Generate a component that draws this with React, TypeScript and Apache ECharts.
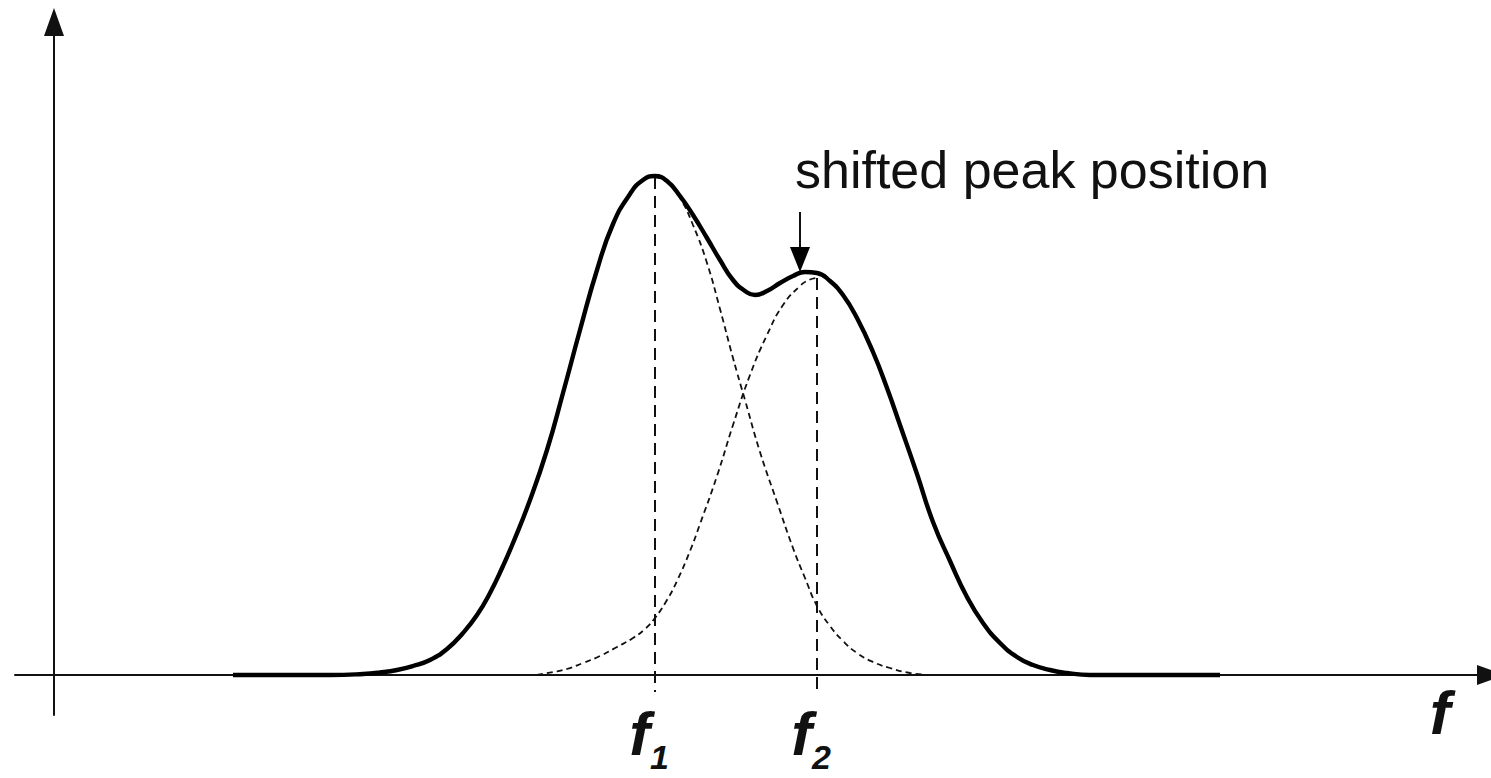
import React, { useEffect, useRef } from "react";
import * as echarts from "echarts";

const solidX = [17.9, 27.6, 30.9, 32.6, 34.3, 35.9, 37.6, 39.3, 40.9, 42.3, 43.6, 44.9, 45.9, 47.6, 49.3, 50.9, 52.6, 54.3, 55.9, 57.6, 58.9, 60.1, 61.3, 62.6, 63.9, 65.3, 66.6, 67.9, 69.1, 70.1, 71.3, 72.6, 73.9, 75.1, 76.3, 77.6, 78.9, 80.3, 81.9, 83.3, 84.6, 86.3, 87.9, 89.6, 91.3, 92.9, 94.6, 96.3, 97.9, 99.6, 101.3, 103.6, 116.6];
const solidY = [0, 0, 0.1, 0.25, 0.5, 0.9, 1.5, 2.6, 4.2, 6.0, 8.2, 10.9, 13.2, 17.5, 22.5, 28.2, 34.5, 40.5, 45.1, 48.1, 49.5, 49.9, 49.4, 47.9, 46.0, 43.7, 41.5, 39.5, 38.4, 38.0, 38.4, 39.2, 39.9, 40.3, 40.2, 39.4, 38.0, 35.7, 32.3, 28.7, 25.0, 20.1, 15.3, 11.4, 7.8, 5.2, 3.2, 1.8, 1.0, 0.5, 0.2, 0, 0];

// Component 2 (rising dashed branch up to f2)
const compAX = [48.3, 49.9, 51.3, 52.9, 54.6, 56.3, 57.9, 59.1, 60.1, 61.3, 62.3, 63.6, 64.6, 66.3, 67.9, 69.6, 71.3, 72.9, 74.6, 75.5, 76.3];
const compAY = [0, 0.3, 0.6, 1.2, 1.9, 2.8, 3.7, 4.6, 5.7, 7.5, 9.4, 12.4, 15.1, 19.9, 25.0, 30.0, 34.0, 37.0, 38.9, 39.5, 39.7];

// Component 1 (falling dashed branch from f1)
const compBX = [60.1, 61.3, 62.6, 63.9, 65.3, 66.6, 67.9, 69.1, 70.6, 72.3, 73.9, 75.1, 76.3, 77.6, 78.9, 80.3, 81.9, 83.6, 85.6, 87.6];
const compBY = [49.8, 49.3, 47.7, 45.0, 41.2, 36.6, 31.7, 27.5, 22.3, 17.3, 12.7, 9.7, 6.9, 4.9, 3.4, 2.2, 1.3, 0.7, 0.2, 0];

// Peak positions
const peakNames = ["1", "2"];
const peakF = [60.1, 76.3];
const peakH = [49.8, 39.7];
const dropBottom = -1.7;

// Annotation arrow
const annX = 74.6;
const annTop = 46.3;
const annTip = 40.3;
const annText = "shifted peak position";
const axisName = "f";

const INK = "#111";

export default function App() {
  const ref = useRef<HTMLDivElement>(null);
  useEffect(() => {
    const chart = echarts.init(ref.current!, null, { renderer: "svg" });
    const axisCommon = {
      type: "value",
      axisLine: {
        show: true,
        onZero: true,
        symbol: ["none", "triangle"],
        symbolSize: [20, 28],
        lineStyle: { color: INK, width: 2 },
      },
      axisTick: { show: false },
      axisLabel: { show: false },
      splitLine: { show: false },
    };
    const pairs = (xs: number[], ys: number[]) => xs.map((x, i) => [x, ys[i]]);
    const smoothCfg = { smooth: 0.5 };
    const series: any[] = [
      {
        type: "line",
        data: pairs(compAX, compAY),
        ...smoothCfg,
        symbol: "none",
        lineStyle: { color: INK, width: 1.8, type: [6, 4] },
        z: 3,
      },
      {
        type: "line",
        data: pairs(compBX, compBY),
        ...smoothCfg,
        symbol: "none",
        lineStyle: { color: INK, width: 1.8, type: [6, 4] },
        z: 3,
      },
    ];
    peakF.forEach((f, i) => {
      series.push({
        type: "line",
        data: [
          [f, peakH[i]],
          [f, dropBottom],
        ],
        symbol: "none",
        lineStyle: { color: INK, width: 2, type: [12, 7] },
        z: 3,
      });
    });
    series.push({
      type: "line",
      data: pairs(solidX, solidY),
      ...smoothCfg,
      symbol: "none",
      lineStyle: { color: "#000", width: 4.4 },
      z: 4,
    });

    chart.setOption({
      animation: false,
      backgroundColor: "#fff",
      grid: { left: 15, right: 0, top: 22, bottom: 63 },
      xAxis: { ...axisCommon, min: -3.9, max: 143.7 },
      yAxis: { ...axisCommon, min: -4, max: 65.3 },
      series,
    });

    const toPx = (x: number, y: number) =>
      chart.convertToPixel({ gridIndex: 0 }, [x, y]) as number[];

    const graphics: any[] = [];
    const fontF = "Liberation Sans";
    peakF.forEach((f, i) => {
      const p = toPx(f, 0);
      graphics.push({
        type: "text",
        x: p[0] - 5,
        y: 733,
        style: {
          text: "f",
          fontFamily: fontF,
          fontSize: 62,
          fontWeight: "bold",
          fontStyle: "italic",
          fill: INK,
          align: "right",
          verticalAlign: "middle",
        },
      });
      graphics.push({
        type: "text",
        x: p[0] - 5,
        y: 757,
        style: {
          text: peakNames[i],
          fontFamily: fontF,
          fontSize: 34,
          fontWeight: "bold",
          fontStyle: "italic",
          fill: INK,
          align: "left",
          verticalAlign: "middle",
        },
      });
    });
    graphics.push({
      type: "text",
      x: 1440,
      y: 712,
      style: {
        text: axisName,
        fontFamily: fontF,
        fontSize: 62,
        fontWeight: "bold",
        fontStyle: "italic",
        fill: INK,
        align: "center",
        verticalAlign: "middle",
      },
    });
    graphics.push({
      type: "text",
      x: 795,
      y: 170,
      style: {
        text: annText,
        fontFamily: fontF,
        fontSize: 52,
        fill: INK,
        align: "left",
        verticalAlign: "middle",
      },
    });
    const a0 = toPx(annX, annTop);
    const a1 = toPx(annX, annTip);
    graphics.push({
      type: "line",
      shape: { x1: a0[0], y1: a0[1], x2: a1[0], y2: a1[1] - 20 },
      style: { stroke: INK, lineWidth: 2 },
    });
    graphics.push({
      type: "polygon",
      shape: {
        points: [
          [a1[0], a1[1]],
          [a1[0] - 10, a1[1] - 25],
          [a1[0] + 10, a1[1] - 25],
        ],
      },
      style: { fill: "#000" },
    });
    chart.setOption({ graphic: graphics });

    return () => chart.dispose();
  }, []);
  return (
    <div
      ref={ref}
      style={{
        position: "fixed",
        left: 0,
        top: 0,
        width: 1491,
        height: 778,
        background: "#fff",
      }}
    />
  );
}
